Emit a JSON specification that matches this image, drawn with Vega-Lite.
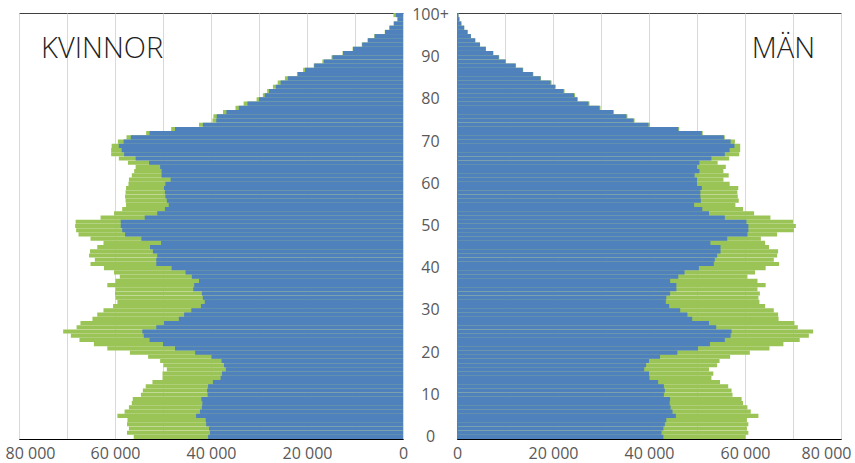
{
  "$schema": "https://vega.github.io/schema/vega-lite/v6.json",
  "autosize": {"type": "pad"},
  "padding": {"left": 4, "top": 6, "right": 0, "bottom": 0},
  "background": "white",
  "bounds": "flush",
  "spacing": 54,
  "config": {
    "font": "Open Sans",
    "view": {"stroke": "#404040", "strokeWidth": 1},
    "axis": {
      "labelFont": "Open Sans",
      "labelFontSize": 16,
      "labelColor": "#595959",
      "ticks": false,
      "tickSize": 0,
      "domainColor": "#000000",
      "domainWidth": 1,
      "gridColor": "#d9d9d9",
      "gridWidth": 1,
      "title": null,
      "labelOverlap": false,
      "labelFlush": false
    }
  },
  "datasets": {
    "pop": [
      {"s":"K","age":0,"t":56100,"b":40600},
      {"s":"K","age":1,"t":57500,"b":40200},
      {"s":"K","age":2,"t":57100,"b":40400},
      {"s":"K","age":3,"t":57500,"b":41000},
      {"s":"K","age":4,"t":57400,"b":41100},
      {"s":"K","age":5,"t":59500,"b":43100},
      {"s":"K","age":6,"t":58000,"b":42300},
      {"s":"K","age":7,"t":57100,"b":41900},
      {"s":"K","age":8,"t":56500,"b":41800},
      {"s":"K","age":9,"t":56300,"b":42000},
      {"s":"K","age":10,"t":54600,"b":40700},
      {"s":"K","age":11,"t":54200,"b":40800},
      {"s":"K","age":12,"t":53600,"b":40600},
      {"s":"K","age":13,"t":52200,"b":39600},
      {"s":"K","age":14,"t":50100,"b":38000},
      {"s":"K","age":15,"t":50100,"b":37700},
      {"s":"K","age":16,"t":49200,"b":36900},
      {"s":"K","age":17,"t":49900,"b":37300},
      {"s":"K","age":18,"t":50600,"b":37800},
      {"s":"K","age":19,"t":53100,"b":39900},
      {"s":"K","age":20,"t":56900,"b":43300},
      {"s":"K","age":21,"t":61600,"b":47500},
      {"s":"K","age":22,"t":64400,"b":50000},
      {"s":"K","age":23,"t":67400,"b":52800},
      {"s":"K","age":24,"t":69200,"b":54000},
      {"s":"K","age":25,"t":70800,"b":54300},
      {"s":"K","age":26,"t":68000,"b":51400},
      {"s":"K","age":27,"t":67200,"b":49800},
      {"s":"K","age":28,"t":64700,"b":46700},
      {"s":"K","age":29,"t":63700,"b":45600},
      {"s":"K","age":30,"t":62400,"b":44100},
      {"s":"K","age":31,"t":60400,"b":42100},
      {"s":"K","age":32,"t":59500,"b":41300},
      {"s":"K","age":33,"t":59900,"b":41700},
      {"s":"K","age":34,"t":60000,"b":41900},
      {"s":"K","age":35,"t":59900,"b":43700},
      {"s":"K","age":36,"t":61600,"b":43500},
      {"s":"K","age":37,"t":59900,"b":42500},
      {"s":"K","age":38,"t":59000,"b":44000},
      {"s":"K","age":39,"t":60200,"b":45300},
      {"s":"K","age":40,"t":62300,"b":48200},
      {"s":"K","age":41,"t":65100,"b":51400},
      {"s":"K","age":42,"t":64200,"b":51400},
      {"s":"K","age":43,"t":65400,"b":51200},
      {"s":"K","age":44,"t":65200,"b":52100},
      {"s":"K","age":45,"t":63700,"b":52700},
      {"s":"K","age":46,"t":62400,"b":50400},
      {"s":"K","age":47,"t":65100,"b":54500},
      {"s":"K","age":48,"t":67600,"b":57900},
      {"s":"K","age":49,"t":68100,"b":58500},
      {"s":"K","age":50,"t":68300,"b":58800},
      {"s":"K","age":51,"t":68200,"b":58800},
      {"s":"K","age":52,"t":63000,"b":53800},
      {"s":"K","age":53,"t":60200,"b":51200},
      {"s":"K","age":54,"t":58500,"b":49600},
      {"s":"K","age":55,"t":57700,"b":48800},
      {"s":"K","age":56,"t":57800,"b":49200},
      {"s":"K","age":57,"t":57900,"b":49500},
      {"s":"K","age":58,"t":57800,"b":49600},
      {"s":"K","age":59,"t":57700,"b":49800},
      {"s":"K","age":60,"t":57200,"b":49500},
      {"s":"K","age":61,"t":57100,"b":48400},
      {"s":"K","age":62,"t":56500,"b":50300},
      {"s":"K","age":63,"t":56000,"b":50300},
      {"s":"K","age":64,"t":55700,"b":50600},
      {"s":"K","age":65,"t":57300,"b":52900},
      {"s":"K","age":66,"t":59200,"b":55700},
      {"s":"K","age":67,"t":60800,"b":58100},
      {"s":"K","age":68,"t":60800,"b":58600},
      {"s":"K","age":69,"t":60700,"b":59200},
      {"s":"K","age":70,"t":59400,"b":58200},
      {"s":"K","age":71,"t":57600,"b":56700},
      {"s":"K","age":72,"t":53500,"b":52800},
      {"s":"K","age":73,"t":48300,"b":47500},
      {"s":"K","age":74,"t":42500,"b":41700},
      {"s":"K","age":75,"t":39700,"b":38900},
      {"s":"K","age":76,"t":39500,"b":38800},
      {"s":"K","age":77,"t":37500,"b":36800},
      {"s":"K","age":78,"t":34900,"b":34200},
      {"s":"K","age":79,"t":33200,"b":32400},
      {"s":"K","age":80,"t":30500,"b":30000},
      {"s":"K","age":81,"t":29200,"b":28800},
      {"s":"K","age":82,"t":28300,"b":27900},
      {"s":"K","age":83,"t":27100,"b":26500},
      {"s":"K","age":84,"t":26100,"b":25500},
      {"s":"K","age":85,"t":24600,"b":24000},
      {"s":"K","age":86,"t":22100,"b":21900},
      {"s":"K","age":87,"t":20800,"b":20400},
      {"s":"K","age":88,"t":18600,"b":18500},
      {"s":"K","age":89,"t":16800,"b":16500},
      {"s":"K","age":90,"t":14900,"b":14700},
      {"s":"K","age":91,"t":12600,"b":12500},
      {"s":"K","age":92,"t":10500,"b":10400},
      {"s":"K","age":93,"t":8600,"b":8500},
      {"s":"K","age":94,"t":7400,"b":7300},
      {"s":"K","age":95,"t":6000,"b":5900},
      {"s":"K","age":96,"t":3800,"b":3750},
      {"s":"K","age":97,"t":2850,"b":2800},
      {"s":"K","age":98,"t":1950,"b":1900},
      {"s":"K","age":99,"t":1200,"b":1100},
      {"s":"K","age":100,"t":2000,"b":1500},
      {"s":"M","age":0,"t":60100,"b":43000},
      {"s":"M","age":1,"t":60700,"b":42600},
      {"s":"M","age":2,"t":60400,"b":43000},
      {"s":"M","age":3,"t":60700,"b":43300},
      {"s":"M","age":4,"t":60400,"b":43600},
      {"s":"M","age":5,"t":62800,"b":45600},
      {"s":"M","age":6,"t":61200,"b":44900},
      {"s":"M","age":7,"t":60500,"b":44500},
      {"s":"M","age":8,"t":59600,"b":44300},
      {"s":"M","age":9,"t":59300,"b":44400},
      {"s":"M","age":10,"t":57400,"b":43100},
      {"s":"M","age":11,"t":57200,"b":43300},
      {"s":"M","age":12,"t":56500,"b":43100},
      {"s":"M","age":13,"t":54800,"b":41900},
      {"s":"M","age":14,"t":53000,"b":40100},
      {"s":"M","age":15,"t":53400,"b":40000},
      {"s":"M","age":16,"t":52500,"b":39000},
      {"s":"M","age":17,"t":54200,"b":39400},
      {"s":"M","age":18,"t":54700,"b":40000},
      {"s":"M","age":19,"t":56900,"b":42300},
      {"s":"M","age":20,"t":61000,"b":45900},
      {"s":"M","age":21,"t":65100,"b":50200},
      {"s":"M","age":22,"t":68000,"b":52700},
      {"s":"M","age":23,"t":71400,"b":55800},
      {"s":"M","age":24,"t":73300,"b":57000},
      {"s":"M","age":25,"t":74200,"b":57200},
      {"s":"M","age":26,"t":71000,"b":54000},
      {"s":"M","age":27,"t":70300,"b":52500},
      {"s":"M","age":28,"t":67000,"b":49000},
      {"s":"M","age":29,"t":66900,"b":48000},
      {"s":"M","age":30,"t":66000,"b":46500},
      {"s":"M","age":31,"t":64200,"b":44200},
      {"s":"M","age":32,"t":63000,"b":43500},
      {"s":"M","age":33,"t":62800,"b":43600},
      {"s":"M","age":34,"t":63100,"b":44400},
      {"s":"M","age":35,"t":62600,"b":45700},
      {"s":"M","age":36,"t":64300,"b":45700},
      {"s":"M","age":37,"t":62600,"b":44400},
      {"s":"M","age":38,"t":60500,"b":46100},
      {"s":"M","age":39,"t":62100,"b":47400},
      {"s":"M","age":40,"t":64300,"b":50400},
      {"s":"M","age":41,"t":67100,"b":53500},
      {"s":"M","age":42,"t":66000,"b":53700},
      {"s":"M","age":43,"t":66700,"b":54200},
      {"s":"M","age":44,"t":66900,"b":54900},
      {"s":"M","age":45,"t":65000,"b":54900},
      {"s":"M","age":46,"t":64200,"b":52800},
      {"s":"M","age":47,"t":63300,"b":56300},
      {"s":"M","age":48,"t":66700,"b":60500},
      {"s":"M","age":49,"t":70200,"b":60700},
      {"s":"M","age":50,"t":70600,"b":60700},
      {"s":"M","age":51,"t":70000,"b":60300},
      {"s":"M","age":52,"t":65300,"b":55800},
      {"s":"M","age":53,"t":61900,"b":52500},
      {"s":"M","age":54,"t":59600,"b":51100},
      {"s":"M","age":55,"t":58000,"b":49400},
      {"s":"M","age":56,"t":58700,"b":50800},
      {"s":"M","age":57,"t":58500,"b":50700},
      {"s":"M","age":58,"t":58400,"b":50700},
      {"s":"M","age":59,"t":58600,"b":51000},
      {"s":"M","age":60,"t":56800,"b":50000},
      {"s":"M","age":61,"t":55500,"b":50000},
      {"s":"M","age":62,"t":56600,"b":49500},
      {"s":"M","age":63,"t":55500,"b":50500},
      {"s":"M","age":64,"t":56000,"b":50000},
      {"s":"M","age":65,"t":54300,"b":50500},
      {"s":"M","age":66,"t":56700,"b":53000},
      {"s":"M","age":67,"t":58800,"b":55800},
      {"s":"M","age":68,"t":59000,"b":56800},
      {"s":"M","age":69,"t":59000,"b":57800},
      {"s":"M","age":70,"t":57900,"b":57000},
      {"s":"M","age":71,"t":55800,"b":55600},
      {"s":"M","age":72,"t":51200,"b":51000},
      {"s":"M","age":73,"t":46300,"b":46100},
      {"s":"M","age":74,"t":40200,"b":39900},
      {"s":"M","age":75,"t":37000,"b":36800},
      {"s":"M","age":76,"t":35500,"b":35300},
      {"s":"M","age":77,"t":32700,"b":32500},
      {"s":"M","age":78,"t":29900,"b":29700},
      {"s":"M","age":79,"t":27600,"b":27400},
      {"s":"M","age":80,"t":25200,"b":25000},
      {"s":"M","age":81,"t":24600,"b":24400},
      {"s":"M","age":82,"t":22400,"b":22200},
      {"s":"M","age":83,"t":20600,"b":20400},
      {"s":"M","age":84,"t":19700,"b":19500},
      {"s":"M","age":85,"t":17500,"b":17400},
      {"s":"M","age":86,"t":15900,"b":15800},
      {"s":"M","age":87,"t":13800,"b":13700},
      {"s":"M","age":88,"t":12300,"b":12200},
      {"s":"M","age":89,"t":10200,"b":10100},
      {"s":"M","age":90,"t":8800,"b":8700},
      {"s":"M","age":91,"t":7600,"b":7500},
      {"s":"M","age":92,"t":6000,"b":6000},
      {"s":"M","age":93,"t":4800,"b":4800},
      {"s":"M","age":94,"t":3800,"b":3800},
      {"s":"M","age":95,"t":2900,"b":2900},
      {"s":"M","age":96,"t":2200,"b":2200},
      {"s":"M","age":97,"t":1500,"b":1500},
      {"s":"M","age":98,"t":900,"b":900},
      {"s":"M","age":99,"t":500,"b":500},
      {"s":"M","age":100,"t":300,"b":300}
    ]
  },
  "hconcat": [
    {
      "width": 384,
      "height": 426,
      "layer": [
        {
          "data": {"name": "pop"},
          "transform": [{"filter": "datum.s == 'K'"}],
          "mark": {"type": "bar", "color": "#9bc456"},
          "encoding": {
            "x": {
              "field": "t", "type": "quantitative",
              "scale": {"domain": [0, 80000], "reverse": true, "nice": false, "zero": true},
              "axis": {
                "values": [0, 10000, 20000, 30000, 40000, 50000, 60000, 70000, 80000],
                "grid": true,
                "labelPadding": 6,
                "labelExpr": "datum.value % 20000 == 0 ? replace(format(datum.value, ','), ',', ' ') : ''",
                "labelOffset": {"condition": {"test": "datum.value == 80000", "value": 11}, "value": 0}
              }
            },
            "y": {
              "field": "age", "type": "ordinal",
              "scale": {"domain": [100,99,98,97,96,95,94,93,92,91,90,89,88,87,86,85,84,83,82,81,80,79,78,77,76,75,74,73,72,71,70,69,68,67,66,65,64,63,62,61,60,59,58,57,56,55,54,53,52,51,50,49,48,47,46,45,44,43,42,41,40,39,38,37,36,35,34,33,32,31,30,29,28,27,26,25,24,23,22,21,20,19,18,17,16,15,14,13,12,11,10,9,8,7,6,5,4,3,2,1,0], "paddingInner": 0.02, "paddingOuter": 0},
              "axis": null
            }
          }
        },
        {
          "data": {"name": "pop"},
          "transform": [{"filter": "datum.s == 'K'"}],
          "mark": {"type": "bar", "color": "#4f81bd"},
          "encoding": {
            "x": {"field": "b", "type": "quantitative"},
            "y": {"field": "age", "type": "ordinal"}
          }
        },
        {
          "data": {"values": [{"lbl": "KVINNOR"}]},
          "mark": {"type": "text", "align": "left", "baseline": "middle", "font": "Open Sans", "fontSize": 29, "fontWeight": 300, "color": "#1f1f1f"},
          "encoding": {
            "x": {"datum": 75400, "type": "quantitative"},
            "y": {"datum": 92, "type": "ordinal"},
            "text": {"field": "lbl"}
          }
        }
      ]
    },
    {
      "width": 384,
      "height": 426,
      "layer": [
        {
          "data": {"name": "pop"},
          "transform": [{"filter": "datum.s == 'M'"}],
          "mark": {"type": "bar", "color": "#9bc456"},
          "encoding": {
            "x": {
              "field": "t", "type": "quantitative",
              "scale": {"domain": [0, 80000], "nice": false, "zero": true},
              "axis": {
                "values": [0, 10000, 20000, 30000, 40000, 50000, 60000, 70000, 80000],
                "grid": true,
                "labelPadding": 6,
                "labelExpr": "datum.value % 20000 == 0 ? replace(format(datum.value, ','), ',', ' ') : ''",
                "labelOffset": {"condition": {"test": "datum.value == 80000", "value": -15}, "value": 0}
              }
            },
            "y": {
              "field": "age", "type": "ordinal",
              "scale": {"domain": [100,99,98,97,96,95,94,93,92,91,90,89,88,87,86,85,84,83,82,81,80,79,78,77,76,75,74,73,72,71,70,69,68,67,66,65,64,63,62,61,60,59,58,57,56,55,54,53,52,51,50,49,48,47,46,45,44,43,42,41,40,39,38,37,36,35,34,33,32,31,30,29,28,27,26,25,24,23,22,21,20,19,18,17,16,15,14,13,12,11,10,9,8,7,6,5,4,3,2,1,0], "paddingInner": 0.02, "paddingOuter": 0},
              "axis": {
                "orient": "left",
                "values": [0, 10, 20, 30, 40, 50, 60, 70, 80, 90, 100],
                "labelAlign": "center",
                "labelPadding": 27,
                "grid": false,
                "labelExpr": "datum.value == 100 ? '100+' : datum.label"
              }
            }
          }
        },
        {
          "data": {"name": "pop"},
          "transform": [{"filter": "datum.s == 'M'"}],
          "mark": {"type": "bar", "color": "#4f81bd"},
          "encoding": {
            "x": {"field": "b", "type": "quantitative"},
            "y": {"field": "age", "type": "ordinal"}
          }
        },
        {
          "data": {"values": [{"lbl": "MÄN"}]},
          "mark": {"type": "text", "align": "right", "baseline": "middle", "font": "Open Sans", "fontSize": 29, "fontWeight": 300, "color": "#1f1f1f"},
          "encoding": {
            "x": {"datum": 74600, "type": "quantitative"},
            "y": {"datum": 92, "type": "ordinal"},
            "text": {"field": "lbl"}
          }
        }
      ]
    }
  ]
}
